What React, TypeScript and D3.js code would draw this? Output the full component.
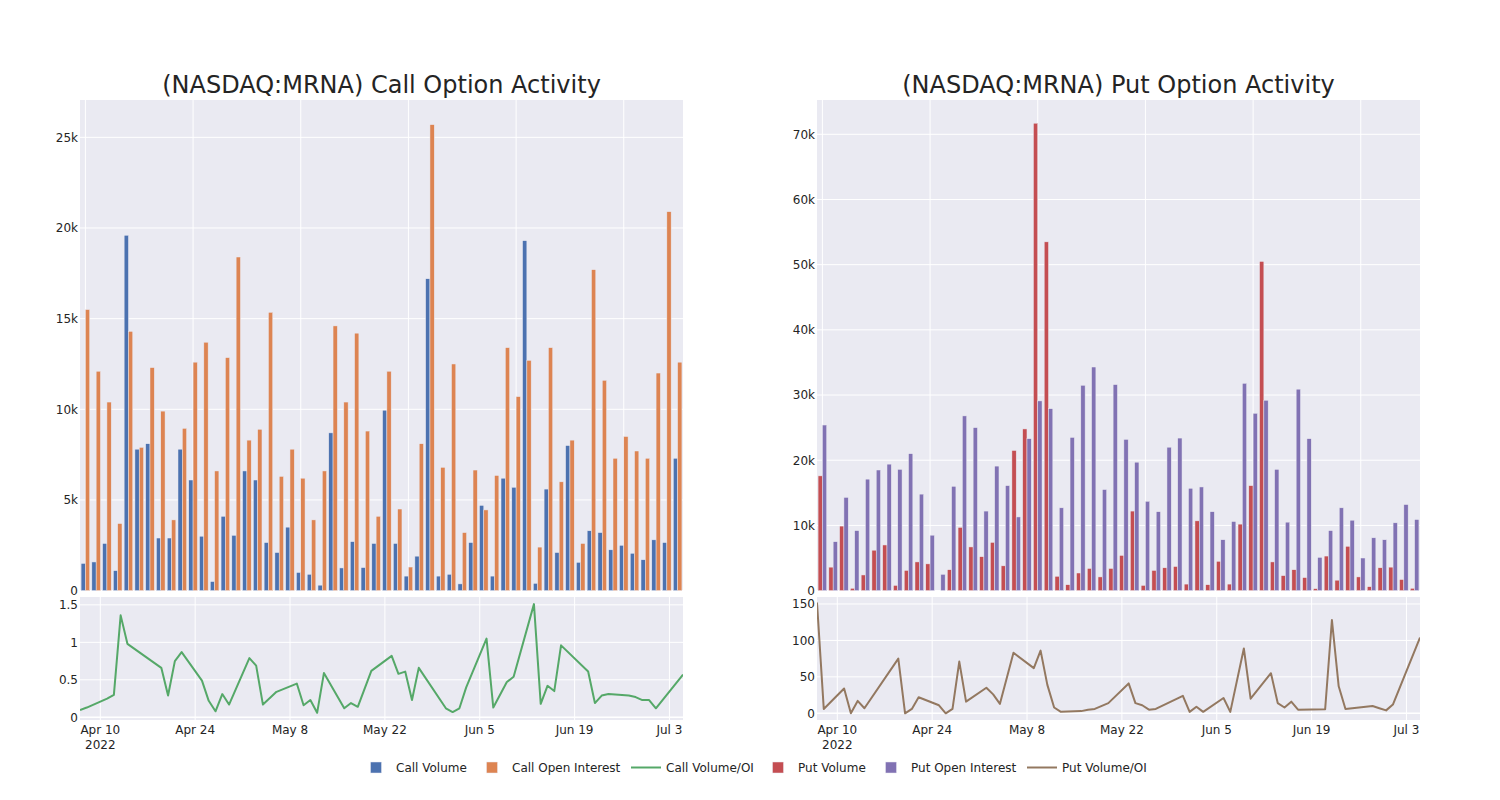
import React from 'react';
import * as d3 from 'd3';

// ---------- data ----------
const DATES = [
  "2022-04-07","2022-04-08","2022-04-11","2022-04-12","2022-04-13","2022-04-14","2022-04-19","2022-04-20",
  "2022-04-21","2022-04-22","2022-04-25","2022-04-26","2022-04-27","2022-04-28","2022-04-29","2022-05-02",
  "2022-05-03","2022-05-04","2022-05-06","2022-05-09","2022-05-10","2022-05-11","2022-05-12","2022-05-13",
  "2022-05-16","2022-05-17","2022-05-18","2022-05-20","2022-05-23","2022-05-24","2022-05-25","2022-05-26",
  "2022-05-27","2022-05-31","2022-06-01","2022-06-02","2022-06-03","2022-06-06","2022-06-07","2022-06-09",
  "2022-06-10","2022-06-13","2022-06-14","2022-06-15","2022-06-16","2022-06-17","2022-06-21","2022-06-22",
  "2022-06-23","2022-06-24","2022-06-27","2022-06-28","2022-06-29","2022-06-30","2022-07-01","2022-07-05",
];

const CALL_VOLUME = [
  1500,1580,2600,1100,19600,7800,8100,2900,2900,7800,6100,3000,500,4100,3050,6600,
  6100,2650,2100,3500,1000,900,300,8700,1250,2700,1270,2600,9950,2600,800,1900,
  17200,800,900,370,2650,4700,800,6200,5700,19300,400,5600,2100,8000,1560,3300,
  3200,2250,2500,2060,1700,2800,2650,7300,
];
const CALL_OI = [
  15500,12100,10400,3700,14300,7900,12300,9900,3900,8950,12600,13700,6600,12850,18400,8300,
  8900,15350,6300,7800,6200,3900,6600,14600,10400,14200,8800,4100,12100,4500,1300,8100,
  25700,6800,12500,3200,6650,4450,6350,13400,10700,12700,2400,13400,6000,8300,2600,17700,
  11600,7300,8500,7700,7300,12000,20900,12600,
];
const CALL_RATIO = [
  0.097,0.13,0.25,0.30,1.36,0.98,0.66,0.29,0.75,0.87,0.49,0.22,0.08,0.31,0.17,0.79,
  0.69,0.17,0.34,0.45,0.16,0.23,0.06,0.59,0.12,0.19,0.14,0.62,0.82,0.58,0.61,0.23,
  0.66,0.12,0.07,0.12,0.40,1.05,0.13,0.47,0.54,1.51,0.18,0.42,0.35,0.96,0.61,0.19,
  0.29,0.31,0.29,0.27,0.23,0.23,0.12,0.57,
];
const PUT_VOLUME = [
  17600,3600,9900,360,2400,6200,7000,800,3100,4400,4100,0,3200,9700,6700,5200,
  7400,3800,21500,24800,71700,53500,2200,900,2700,3400,2100,3400,5400,12200,800,3100,
  3500,3700,1000,10700,900,4500,1000,10200,16100,50500,4400,2300,3200,2000,300,5300,
  1600,6800,2100,600,3500,3600,1700,360,
];
const PUT_OI = [
  25400,7500,14300,9200,17100,18500,19400,18600,21000,14800,8500,2500,16000,26800,25000,12200,
  19100,16100,11300,23300,29100,27900,12700,23500,31500,34300,15500,31600,23200,19700,13700,12100,
  22000,23400,15700,15900,12100,7800,10600,31800,27200,29200,18600,10500,30900,23300,5100,9200,
  12700,10800,5000,8100,7800,10400,13200,10900,
];
const PUT_RATIO = [
  152,6,34,0,17,7,75,0,6,22,11,0,6,71,16,35,
  26,13,83,62,86,39,8,2,3,5,6,14,41,14,11,5,
  6,24,2,9,2,21,2,89,20,55,14,8,16,5,5.5,128,
  37,6,9,10,7,4,12,104,
];

const DATE_TICKS = ["2022-04-10","2022-04-24","2022-05-08","2022-05-22","2022-06-05","2022-06-19","2022-07-03"];
const CALL_BAR_TICKS = [0, 5000, 10000, 15000, 20000, 25000];
const PUT_BAR_TICKS = [0, 10000, 20000, 30000, 40000, 50000, 60000, 70000];
const CALL_RATIO_TICKS = [0, 0.5, 1, 1.5];
const PUT_RATIO_TICKS = [0, 50, 100, 150];

const LEGEND_ITEMS = [
  { label: "Call Volume", color: "#4C72B0", kind: "bar" },
  { label: "Call Open Interest", color: "#DD8452", kind: "bar" },
  { label: "Call Volume/OI", color: "#55A868", kind: "line" },
  { label: "Put Volume", color: "#C44E52", kind: "bar" },
  { label: "Put Open Interest", color: "#8172B3", kind: "bar" },
  { label: "Put Volume/OI", color: "#937860", kind: "line" },
];

// ---------- layout / style ----------
const W = 1500;
const H = 800;
const FONT = "'DejaVu Sans', Verdana, sans-serif";
const TEXT = "rgb(36,36,36)";
const BG = "rgb(234,234,242)";
const TOP_Y0 = 100;
const TOP_Y1 = 590.6;
const BOT_Y0 = 597;
const BOT_Y1 = 720;
const LEGEND_TEXT_X = [396, 512, 666, 798, 911, 1062];

const parse = d3.timeParse("%Y-%m-%d");
const fmtDay = d3.timeFormat("%b %-d");
const fmtK = (v: number) => (v === 0 ? "0" : `${v / 1000}k`);
const fmtNum = (v: number) => `${v}`;

type PanelProps = {
  id: string;
  x0: number;
  x1: number;
  title: string;
  volume: number[];
  oi: number[];
  ratio: number[];
  volColor: string;
  oiColor: string;
  lineColor: string;
  barMax: number;
  barTicks: number[];
  ratioDomain: [number, number];
  ratioTicks: number[];
};

function Panel(p: PanelProps) {
  const band = d3.scaleBand<string>().domain(DATES).range([p.x0, p.x1]).paddingInner(0.2).paddingOuter(0.1);
  const sub = d3.scaleBand<string>().domain(["vol", "oi"]).range([0, band.bandwidth()]);
  const yBar = d3.scaleLinear().domain([0, p.barMax]).range([TOP_Y1, TOP_Y0]);

  const xTime = d3.scaleTime()
    .domain([parse(DATES[0]) as Date, parse(DATES[DATES.length - 1]) as Date])
    .range([p.x0, p.x1]);
  const yRatio = d3.scaleLinear().domain(p.ratioDomain).range([BOT_Y1, BOT_Y0]);

  const line = d3.line<number>()
    .x((_, i) => xTime(parse(DATES[i]) as Date))
    .y((d) => yRatio(d));

  const center = (d: string) => (band(d) as number) + band.bandwidth() / 2;
  const gridCats = DATES.filter((_, i) => i % 10 === 0);

  return (
    <g>
      <text x={(p.x0 + p.x1) / 2} y={93} textAnchor="middle" fontSize={24} fill={TEXT} fontFamily={FONT}>
        {p.title}
      </text>

      {/* top bar panel */}
      <rect x={p.x0} y={TOP_Y0} width={p.x1 - p.x0} height={TOP_Y1 - TOP_Y0} fill={BG} />
      {gridCats.map((d) => (
        <line key={"vg" + d} x1={center(d)} x2={center(d)} y1={TOP_Y0} y2={TOP_Y1} stroke="#fff" strokeWidth={1} />
      ))}
      {p.barTicks.map((t) => (
        <g key={"bt" + t}>
          <line x1={p.x0} x2={p.x1} y1={yBar(t)} y2={yBar(t)} stroke="#fff" strokeWidth={1} />
          <text x={p.x0 - 2} y={yBar(t) + 4.3} textAnchor="end" fontSize={12} fill={TEXT} fontFamily={FONT}>
            {fmtK(t)}
          </text>
        </g>
      ))}
      {DATES.map((d, i) => (
        <g key={"bar" + d}>
          <rect
            x={(band(d) as number) + (sub("vol") as number)}
            y={yBar(p.volume[i])}
            width={sub.bandwidth()}
            height={TOP_Y1 - yBar(p.volume[i])}
            fill={p.volColor}
            stroke={BG}
            strokeWidth={0.5}
          />
          <rect
            x={(band(d) as number) + (sub("oi") as number)}
            y={yBar(p.oi[i])}
            width={sub.bandwidth()}
            height={TOP_Y1 - yBar(p.oi[i])}
            fill={p.oiColor}
            stroke={BG}
            strokeWidth={0.5}
          />
        </g>
      ))}

      {/* bottom ratio panel */}
      <defs>
        <clipPath id={"clip" + p.id}>
          <rect x={p.x0} y={BOT_Y0} width={p.x1 - p.x0} height={BOT_Y1 - BOT_Y0} />
        </clipPath>
      </defs>
      <rect x={p.x0} y={BOT_Y0} width={p.x1 - p.x0} height={BOT_Y1 - BOT_Y0} fill={BG} />
      {DATE_TICKS.map((t, i) => {
        const x = xTime(parse(t) as Date);
        return (
          <g key={"dt" + t}>
            <line x1={x} x2={x} y1={BOT_Y0} y2={BOT_Y1} stroke="#fff" strokeWidth={1} />
            <text x={x} y={734} textAnchor="middle" fontSize={12} fill={TEXT} fontFamily={FONT}>
              {fmtDay(parse(t) as Date)}
            </text>
            {i === 0 && (
              <text x={x} y={748.5} textAnchor="middle" fontSize={12} fill={TEXT} fontFamily={FONT}>
                {d3.timeFormat("%Y")(parse(t) as Date)}
              </text>
            )}
          </g>
        );
      })}
      {p.ratioTicks.map((t) => (
        <g key={"rt" + t}>
          <line x1={p.x0} x2={p.x1} y1={yRatio(t)} y2={yRatio(t)} stroke="#fff" strokeWidth={t === 0 ? 1.5 : 1} />
          <text x={p.x0 - 2} y={yRatio(t) + 4.3} textAnchor="end" fontSize={12} fill={TEXT} fontFamily={FONT}>
            {fmtNum(t)}
          </text>
        </g>
      ))}
      <path
        d={line(p.ratio) as string}
        fill="none"
        stroke={p.lineColor}
        strokeWidth={2}
        strokeLinejoin="round"
        clipPath={`url(#clip${p.id})`}
      />
    </g>
  );
}

function Legend() {
  return (
    <g>
      {LEGEND_ITEMS.map((it, i) => {
        const tx = LEGEND_TEXT_X[i];
        return (
          <g key={it.label}>
            {it.kind === "bar" ? (
              <rect x={tx - 25.5} y={762} width={11} height={11} fill={it.color} stroke={BG} strokeWidth={0.5} />
            ) : (
              <line x1={tx - 35} x2={tx - 5} y1={767.5} y2={767.5} stroke={it.color} strokeWidth={2} />
            )}
            <text x={tx} y={772} fontSize={12} fill={TEXT} fontFamily={FONT}>
              {it.label}
            </text>
          </g>
        );
      })}
    </g>
  );
}

export default function App() {
  return (
    <svg
      width={W}
      height={H}
      viewBox={`0 0 ${W} ${H}`}
      style={{ position: "absolute", left: 0, top: 0, background: "#fff" }}
    >
      <rect x={0} y={0} width={W} height={H} fill="#fff" />
      <Panel
        id="call"
        x0={80}
        x1={683}
        title="(NASDAQ:MRNA) Call Option Activity"
        volume={CALL_VOLUME}
        oi={CALL_OI}
        ratio={CALL_RATIO}
        volColor="#4C72B0"
        oiColor="#DD8452"
        lineColor="#55A868"
        barMax={27060}
        barTicks={CALL_BAR_TICKS}
        ratioDomain={[-0.036, 1.605]}
        ratioTicks={CALL_RATIO_TICKS}
      />
      <Panel
        id="put"
        x0={817}
        x1={1420}
        title="(NASDAQ:MRNA) Put Option Activity"
        volume={PUT_VOLUME}
        oi={PUT_OI}
        ratio={PUT_RATIO}
        volColor="#C44E52"
        oiColor="#8172B3"
        lineColor="#937860"
        barMax={75260}
        barTicks={PUT_BAR_TICKS}
        ratioDomain={[-9.2, 159.6]}
        ratioTicks={PUT_RATIO_TICKS}
      />
      <Legend />
    </svg>
  );
}
